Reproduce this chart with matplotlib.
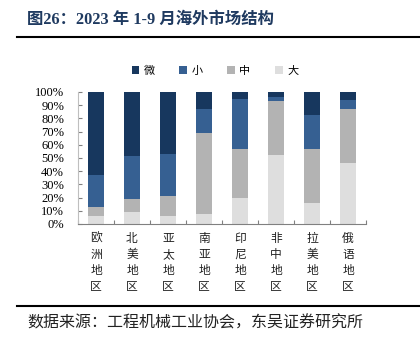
import matplotlib.pyplot as plt
import numpy as np

plt.rcParams['font.family'] = ['Liberation Serif', 'Noto Sans CJK SC']

regions = ['欧洲地区', '北美地区', '亚太地区', '南亚地区', '印尼地区', '非中地区', '拉美地区', '俄语地区']
large = [6, 9, 6, 7.5, 20, 52, 16, 46]
medium = [7, 10, 15, 61.5, 37, 41, 41, 41]
small = [24, 32.5, 32, 18, 38, 3.5, 25.5, 7]
micro = [63, 48.5, 47, 13, 5, 3.5, 17.5, 6]

series = [('大', large, '#DEDEDE'), ('中', medium, '#B3B3B3'),
          ('小', small, '#366092'), ('微', micro, '#17375E')]

fig = plt.figure(figsize=(4.2, 3.42), dpi=100)
ax = fig.add_axes([78 / 420, 1 - 224 / 342, 288 / 420, 132 / 342])

x = np.arange(len(regions))
bottom = np.zeros(len(regions))
handles = {}
for name, vals, color in series:
    h = ax.bar(x, vals, 0.42, bottom=bottom, color=color, label=name)
    handles[name] = h
    bottom += np.array(vals)

ax.set_xlim(-0.5, len(regions) - 0.5)
ax.set_ylim(0, 100)
ax.set_yticks(np.arange(0, 101, 10))
ax.set_yticklabels([f'{v}%' for v in range(0, 101, 10)], fontsize=9)
ax.tick_params(axis='y', direction='in', length=3, color='#808080', pad=10)
ax.set_xticks(np.arange(-0.5, len(regions), 1))
ax.set_xticklabels([])
ax.tick_params(axis='x', direction='in', length=3, color='#808080')
for i, r in enumerate(regions):
    ax.text(i, -6, '\n'.join(r), ha='center', va='top', fontsize=8.5,
            family=['Noto Sans CJK SC'], linespacing=1.3, color='#222222')
for s in ['top', 'right']:
    ax.spines[s].set_visible(False)
ax.spines['left'].set_color('#BFBFBF')
ax.spines['bottom'].set_color('#808080')

order = ['微', '小', '中', '大']
fig.legend([handles[k] for k in order], order, loc='center',
           bbox_to_anchor=(215 / 420, 1 - 71 / 342), ncol=4, frameon=False,
           prop={'family': 'Noto Sans CJK SC', 'size': 8},
           handlelength=0.7, handleheight=0.7, handletextpad=0.4,
           columnspacing=2.2)

fig.text(27 / 420, 1 - 20 / 342, '图26：2023 年 1-9 月海外市场结构', fontsize=11.8,
         fontweight='bold', color='#1F3A60', va='center', ha='left')
fig.add_artist(plt.Line2D([17 / 420, 1], [1 - 37 / 342] * 2, color='black', lw=1.5))
fig.add_artist(plt.Line2D([17 / 420, 1], [1 - 306 / 342] * 2, color='black', lw=1.5))
fig.text(27 / 420, 1 - 323 / 342, '数据来源：工程机械工业协会，东吴证券研究所', fontsize=11.5,
         family=['Noto Sans CJK SC'], va='center', ha='left', color='#222222')

fig.savefig('out.png', dpi=100)
